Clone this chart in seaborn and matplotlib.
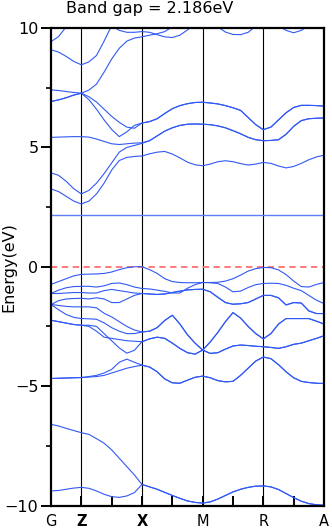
import numpy as np
import pandas as pd
import matplotlib
matplotlib.use("Agg")
import matplotlib.pyplot as plt
import seaborn as sns

nan = np.nan
# k-path sample positions (G=0, Z=0.5, X=1.5, M=2.5, R=3.5, A=4.5)
K_GX = [0.0, 0.125, 0.25, 0.375, 0.5, 0.625, 0.75, 0.875, 1.0, 1.125, 1.25, 1.375, 1.5]
K_XA = [1.625, 1.75, 1.875, 2.0, 2.125, 2.25, 2.375, 2.5, 2.625, 2.75, 2.875, 3.0,
        3.125, 3.25, 3.375, 3.5, 3.625, 3.75, 3.875, 4.0, 4.125, 4.25, 4.375, 4.5]
NX = [nan] * 24
NG = [nan] * 13

sym_pos = [0.0, 0.5, 1.5, 2.5, 3.5, 4.5]
sym_lab = ["G", "Z", "X", "M", "R", "A"]
band_gap = 2.186

# ---- conduction bands, G -> X part
cA_gx = [9.43, 9.64, 10.05, nan, nan, nan, nan, nan, nan, nan, nan, nan, nan]
cB_gx = [9.09, 8.99, 8.81, 8.6, 8.46, 8.58, 8.85, 9.45, 10.1, nan, nan, nan, nan]
cC_gx = [7.41, 7.38, 7.34, 7.3, 7.27, 7.4, 7.65, 8.15, 8.7, 9.15, 9.45, 9.58, 9.63]
cT_gx = [nan, nan, nan, nan, nan, nan, nan, nan, 10.1, 9.9, 9.82, 9.82, 9.85]
cD1_gx = [6.92, 6.99, 7.08, 7.19, 7.27, 7.0, 6.6, 6.15, 5.75, 5.45, 5.65, 5.92, 6.02]
cD2_gx = [6.92, 6.99, 7.08, 7.19, 7.27, 7.12, 6.9, 6.6, 6.3, 6.05, 5.85, 5.8, 6.02]
cE_gx = [5.42, 5.43, 5.44, 5.45, 5.45, 5.43, 5.35, 5.25, 5.15, 5.12, 5.15, 5.18, 5.19]
cF_gx = [3.93, 3.83, 3.58, 3.27, 3.05, 3.2, 3.5, 3.9, 4.35, 4.8, 5.0, 5.08, 5.17]
cG_gx = [3.26, 3.15, 2.95, 2.75, 2.63, 2.75, 3.05, 3.5, 4.05, 4.45, 4.58, 4.62, 4.64]

# ---- conduction bands, X -> A part
cC_xa = [9.7, 9.76, 9.85, 10.05] + [nan] * 20
cT_xa = [9.82, 9.72, 9.63, 9.6, 9.7, 9.92, 10.15] + [nan] * 17
cT4_xa = [nan] * 9 + [10.05, 9.83, 9.73, 9.72, 9.82, 10.08] + [nan] * 9
cT5_xa = [nan] * 17 + [10.1, 9.9, 9.8, 9.9, 10.1] + [nan] * 2
U1_xa = [6.08, 6.2, 6.42, 6.62, 6.75, 6.83, 6.88, 6.89, 6.86, 6.82, 6.75, 6.66,
         6.55, 6.25, 5.95, 5.74, 5.85, 6.15, 6.45, 6.67, 6.76, 6.76, 6.75, 6.73]
U2_xa = [5.28, 5.48, 5.68, 5.82, 5.92, 5.97, 5.98, 5.97, 5.95, 5.9, 5.82, 5.7,
         5.57, 5.42, 5.32, 5.28, 5.29, 5.32, 5.55, 5.88, 6.12, 6.2, 6.22, 6.23]
U3_xa = [4.73, 4.8, 4.83, 4.72, 4.56, 4.38, 4.27, 4.23, 4.3, 4.4, 4.44, 4.4,
         4.32, 4.26, 4.3, 4.37, 4.33, 4.22, 4.14, 4.2, 4.33, 4.48, 4.6, 4.67]

# ---- valence bands, G -> X part
va1_gx = [-0.74, -0.62, -0.5, -0.38, -0.32, -0.31, -0.3, -0.28, -0.22, -0.12, -0.04, 0.0, 0.0]
va2_gx = [-1.12, -0.98, -0.88, -0.83, -0.82, -0.82, -0.85, -0.8, -0.7, -0.68, -0.75, -0.85, -0.91]
vb1_gx = [-1.12, -1.12, -1.1, -1.08, -1.08, -1.1, -1.1, -1.0, -0.95, -1.0, -1.05, -1.1, -1.12]
vb2_gx = [-1.58, -1.42, -1.35, -1.33, -1.32, -1.35, -1.3, -1.35, -1.5, -1.5, -1.35, -1.2, -1.12]
vc1_gx = [-1.58, -1.62, -1.66, -1.68, -1.68, -1.68, -1.72, -1.95, -2.1, -2.3, -2.5, -2.65, -2.73]
vc2_gx = [-1.58, -1.8, -2.0, -2.12, -2.17, -2.18, -2.2, -2.35, -2.55, -2.7, -2.8, -2.8, -2.73]
vd1_gx = [-2.24, -2.3, -2.36, -2.42, -2.45, -2.45, -2.5, -2.8, -3.1, -3.4, -3.62, -3.5, -3.14]
vd2_gx = [-2.24, -2.3, -2.36, -2.42, -2.45, -2.5, -2.7, -2.95, -3.0, -3.05, -3.1, -3.12, -3.14]
vf1_gx = [-4.68, -4.67, -4.66, -4.65, -4.64, -4.6, -4.55, -4.45, -4.3, -4.0, -3.87, -4.0, -4.12]
vf2_gx = [-4.68, -4.67, -4.66, -4.65, -4.64, -4.62, -4.6, -4.55, -4.45, -4.35, -4.25, -4.18, -4.12]

# ---- valence bands, X -> A part (doubly degenerate lines)
a_xa = [-0.12, -0.28, -0.5, -0.62, -0.66, -0.67, -0.67, -0.66, -0.66, -0.65, -0.6, -0.5,
        -0.35, -0.18, -0.08, -0.03, -0.04, -0.13, -0.33, -0.6, -0.83, -0.85, -0.74, -0.66]
b_xa = [-0.93, -0.98, -1.03, -1.1, -1.1, -0.9, -0.75, -0.66, -0.67, -0.7, -0.85, -1.05,
        -1.02, -0.87, -0.75, -0.7, -0.69, -0.7, -0.78, -0.9, -1.0, -1.2, -1.4, -1.54]
c_xa = [-1.14, -1.16, -1.14, -1.08, -1.02, -0.97, -0.95, -0.94, -1.05, -1.28, -1.5, -1.57,
        -1.55, -1.5, -1.35, -1.2, -1.2, -1.3, -1.6, -1.5, -1.52, -1.85, -1.96, -1.96]
d_xa = [-2.7, -2.55, -2.25, -2.03, -2.4, -2.85, -3.2, -3.49, -3.15, -2.75, -2.3, -1.92,
        -2.15, -2.5, -2.8, -3.02, -2.8, -2.4, -2.17, -2.17, -2.17, -2.17, -2.28, -2.4]
e_xa = [-3.02, -2.95, -3.0, -3.2, -3.42, -3.6, -3.66, -3.49, -3.63, -3.6, -3.45, -3.32,
        -3.28, -3.3, -3.33, -3.35, -3.38, -3.42, -3.35, -3.25, -3.2, -3.1, -3.0, -2.89]
f_xa = [-4.2, -4.4, -4.7, -4.86, -4.88, -4.75, -4.63, -4.58, -4.65, -4.77, -4.82, -4.8,
        -4.55, -4.25, -3.95, -3.78, -3.85, -4.1, -4.4, -4.65, -4.8, -4.85, -4.88, -4.89]

# ---- deep bands
L1_gx = [-6.6, -6.67, -6.77, -6.86, -6.95, -7.02, -7.2, -7.39, -7.67, -8.02, -8.37, -8.72, -9.12]
L2_gx = [-9.39, -9.37, -9.32, -9.27, -9.24, -9.28, -9.39, -9.53, -9.63, -9.66, -9.6, -9.46, -9.12]
L_xa = [-9.22, -9.32, -9.45, -9.58, -9.7, -9.81, -9.87, -9.9, -9.85, -9.73, -9.58, -9.43,
        -9.32, -9.24, -9.19, -9.18, -9.22, -9.33, -9.5, -9.67, -9.82, -9.92, -9.97, -9.99]

bands = {
    "cA": cA_gx + NX, "cB": cB_gx + NX, "cC": cC_gx + cC_xa, "cT": cT_gx + cT_xa,
    "cT4": NG + cT4_xa, "cT5": NG + cT5_xa,
    "cD1": cD1_gx + U1_xa, "cD2": cD2_gx + U1_xa, "cE": cE_gx + U2_xa,
    "cF": cF_gx + U2_xa, "cG": cG_gx + U3_xa,
    "va1": va1_gx + a_xa, "va2": va2_gx + b_xa, "vb1": vb1_gx + c_xa, "vb2": vb2_gx + c_xa,
    "vc1": vc1_gx + d_xa, "vc2": vc2_gx + d_xa, "vd1": vd1_gx + e_xa, "vd2": vd2_gx + e_xa,
    "vf1": vf1_gx + f_xa, "vf2": vf2_gx + f_xa,
    "L1": L1_gx + L_xa, "L2": L2_gx + L_xa,
}
K = K_GX + K_XA
rows = []
for name, vals in bands.items():
    for k, e in zip(K, vals):
        rows.append((name, k, e))
df = pd.DataFrame(rows, columns=["band", "k", "E"]).dropna()

sns.set_theme(style="white")
plt.rcParams["font.family"] = ["DejaVu Sans"]
plt.rcParams["text.color"] = "black"
plt.rcParams["axes.labelcolor"] = "black"
plt.rcParams["xtick.color"] = "black"
plt.rcParams["ytick.color"] = "black"

fig = plt.figure(figsize=(3.32, 5.30), dpi=100)
ax = fig.add_axes([51 / 332, 1 - 505.5 / 530, 273 / 332, 477.5 / 530])

blue = "#3159f5"
sns.lineplot(data=df, x="k", y="E", units="band", estimator=None, sort=False,
             color=blue, lw=0.8, ax=ax, legend=False)

ax.axhline(band_gap, color="#5b7df5", lw=1.0, zorder=1)
ax.axhline(0.0, color="#ff7070", lw=1.3, ls=(0, (3.5, 2.5)), zorder=1)
for p in sym_pos[1:-1]:
    ax.axvline(p, color="black", lw=0.8, zorder=0)

ax.set_xlim(0, 4.5)
ax.set_ylim(-10, 10)
ax.set_xlabel("")
ax.set_ylabel("Energy(eV)", fontsize=11.5, color="black")
ax.yaxis.set_label_coords(-(51 - 16) / 273, 0.5)

ax.set_yticks([-10, -5, 0, 5, 10])
ax.set_yticks([-7.5, -2.5, 2.5, 7.5], minor=True)
ax.tick_params(axis="y", which="major", direction="out", length=7, width=1.4,
               labelsize=11.5, pad=2, left=True, colors="black")
ax.tick_params(axis="y", which="minor", direction="out", length=3.5, width=1.2,
               left=True, colors="black")

ax.set_xticks(sym_pos)
ax.set_xticklabels(sym_lab)
for lbl, w in zip(ax.get_xticklabels(), ["normal", "bold", "bold", "normal", "normal", "normal"]):
    lbl.set_fontweight(w)
ax.set_xticks([1.0, 2.0, 3.0, 4.0], minor=True)
ax.tick_params(axis="x", which="both", direction="in", length=7, width=1.4,
               labelsize=10.5, pad=6, bottom=True, colors="black")

for s in ax.spines.values():
    s.set_color("black")
    s.set_linewidth(1.6)

fig.text(150 / 332, 1 - 1 / 530, "Band gap = 2.186eV", ha="center", va="top",
         fontsize=11.5, color="black")

fig.savefig("out.png", dpi=100)
